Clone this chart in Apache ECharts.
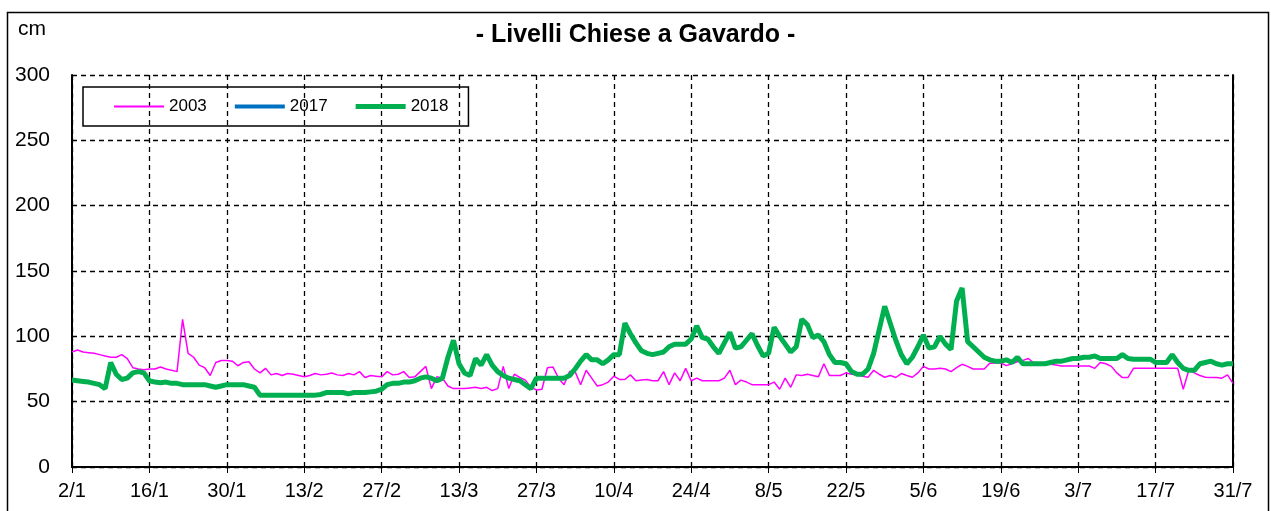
<!DOCTYPE html>
<html>
<head>
<meta charset="utf-8">
<script src="https://cdn.jsdelivr.net/npm/echarts@6/dist/echarts.min.js"></script>
<style>
  html, body { margin: 0; padding: 0; background: #fff; }
  #chart { width: 1271px; height: 511px; }
</style>
</head>
<body>
<div id="chart"></div>
<script>
// tick labels every 14 days, from 2/1 to 31/7 (day index 0..210)
const tickLabels = ['2/1','16/1','30/1','13/2','27/2','13/3','27/3','10/4','24/4','8/5','22/5','5/6','19/6','3/7','17/7','31/7']

// livelli giornalieri (cm)
const y2003 = [
  88,89.5,88,87.5,87,86,85,84,84,86,
  83,76,75,74.5,75,75,76.5,75,74,73,
  113,87,84,78,76,70,80,81.5,81.5,81,
  77.5,80,80.5,75,72,75.5,70.5,71.5,70,71.5,
  71,70,69,70,71.5,70.5,71,72,70.5,70,
  71.5,70.5,73,68.5,70,69.5,69,73,70.5,71,
  73,68.5,69,73,77,60,69,68,62,60,
  60,60,60.5,61,60,61,58.5,60,77,60,
  71,68.5,66.5,61,59,59.5,76,76.5,68,63,
  73,73,63,74,68,62,63,65,69.5,67,
  67,70.5,66,66.5,67,66,66,73,63,72,
  66,75.5,66,68,66,66,66,66,68,74,
  63,66.5,65,63,63,63,63,65,59.5,68,
  61,70.5,70,71,70,69,79,70,70,70,
  72,71,70.5,69.5,68.7,74,71,68.7,70,68.5,
  71.5,70,68.7,72,77,75,75,75.5,75,73,
  76,78.6,77,75,75,75,79.4,79.5,79.6,77.6,
  79,80.6,81.6,83,79.4,79,79,78.6,78,77.3,
  77.3,77.3,77.3,77.3,77.3,75.5,80,79,77,72,
  68.4,68.4,75.5,75.5,75.5,75.5,75.5,75.5,75.5,75.5,
  75.5,59.5,74,72,70,68.7,68.5,68.5,68,70.5,64
]
const y2017 = []
const y2018 = [
  66.5,66,65.5,65,64,63,60,80,71,67,
  68,72,73,72,66,65,64.5,65,64,64,
  63,63,63,63,63,62,61,62,63,63,
  63,63,62,61,55,55,55,55,55,55,
  55,55,55,55,55,55.5,57,57,57,57,
  56,57,57,57,57.5,58,59.5,63,64,64,
  65,65,66,68,69,68,66,68,84,97,
  79,72,70,83,78,86,78,73,70,68,
  67,66,63,60,68,68,68,68,68,68,
  70,75,81,86,82,82,79,82,86,86,
  110,102,95,89,87,86,87,88,92,94,
  94,94,98,108,99,98,92,87,95,103,
  91,92,97,102,93,85,87,107,100,94,
  88,92,113,109,99,101,96,86,80,80,
  79,73,71,71,75,87,105,123,110,97,
  86,79,84,92,101,91,92,100,94,90,
  127,137,96,92,88,84,82,81,81,82,
  80,84,79,79,79,79,79,80,81,81,
  82,83,83,84,84,85,83,83,83,83,
  86,83,82.5,82.5,82.5,82.5,80,80,80,86,
  80,75.5,74,74,79,80,81,79,78,79,79
]

const font = 'Liberation Sans, Arial, sans-serif'
const toPairs = arr => arr.map((v, i) => [i, v])

// legend line icon of given thickness (box 50x14, tiny dots keep the box)
const lineIcon = w => {
  const a = 7 - w / 2, b = 7 + w / 2
  return 'path://M0,0L0.01,0L0.01,0.01Z M0,' + a + 'L50,' + a + 'L50,' + b + 'L0,' + b + 'Z M49.99,14L50,14L50,13.99Z'
}

const chart = echarts.init(document.getElementById('chart'))
chart.setOption({
  animation: false,
  title: {
    text: '- Livelli Chiese a Gavardo -',
    left: 'center',
    top: 23,
    padding: 0,
    textStyle: { fontFamily: font, fontSize: 25, fontWeight: 'bold', color: '#000' }
  },
  graphic: [
    { type: 'rect', shape: { x: 7.5, y: 12.5, width: 1261, height: 520 },
      style: { fill: 'none', stroke: '#000', lineWidth: 1.5 }, silent: true },
    { type: 'text', left: 18, top: 19,
      style: { text: 'cm', font: '21px Liberation Sans, Arial, sans-serif', fill: '#000' } }
  ],
  legend: {
    left: 83, top: 87,
    padding: [11, 20, 11, 31],
    itemGap: 28,
    itemWidth: 50,
    itemHeight: 14,
    borderColor: '#000',
    borderWidth: 1.5,
    textStyle: { fontFamily: font, fontSize: 17, color: '#000' },
    data: [
      { name: '2003', icon: lineIcon(2) },
      { name: '2017', icon: lineIcon(4) },
      { name: '2018', icon: lineIcon(5) }
    ]
  },
  grid: { left: 72, right: 38, top: 75, bottom: 44 },
  xAxis: {
    type: 'value',
    min: 0, max: 210, interval: 14,
    axisLine: { lineStyle: { color: '#000', width: 2 } },
    axisTick: { show: true, length: 6, lineStyle: { color: '#000' } },
    axisLabel: {
      margin: 14,
      fontFamily: font, fontSize: 20, color: '#000',
      formatter: v => tickLabels[Math.round(v / 14)]
    },
    splitLine: { show: true, lineStyle: { color: '#000', type: [5, 4], width: 1.3 } }
  },
  yAxis: [{
    type: 'value',
    min: 0, max: 300, interval: 50,
    axisLine: { show: true, lineStyle: { color: '#000', width: 2 } },
    axisTick: { show: false },
    axisLabel: { margin: 22, fontFamily: font, fontSize: 21, color: '#000' },
    splitLine: { show: true, lineStyle: { color: '#000', type: [5, 4], width: 1.3 } }
  }, {
    type: 'value',
    position: 'right',
    min: 0, max: 300,
    axisLine: { show: true, lineStyle: { color: '#000', width: 2 } },
    axisTick: { show: false },
    axisLabel: { show: false },
    splitLine: { show: false }
  }],
  series: [
    { name: '2003', type: 'line', data: toPairs(y2003), showSymbol: false, symbol: 'none',
      color: '#FF00FF', lineStyle: { width: 1.5, color: '#FF00FF' } },
    { name: '2017', type: 'line', data: toPairs(y2017), showSymbol: false, symbol: 'none',
      color: '#0070C0', lineStyle: { width: 4, color: '#0070C0' } },
    { name: '2018', type: 'line', data: toPairs(y2018), showSymbol: false, symbol: 'none',
      color: '#00B050', lineStyle: { width: 5, color: '#00B050' } }
  ]
})
</script>
</body>
</html>
